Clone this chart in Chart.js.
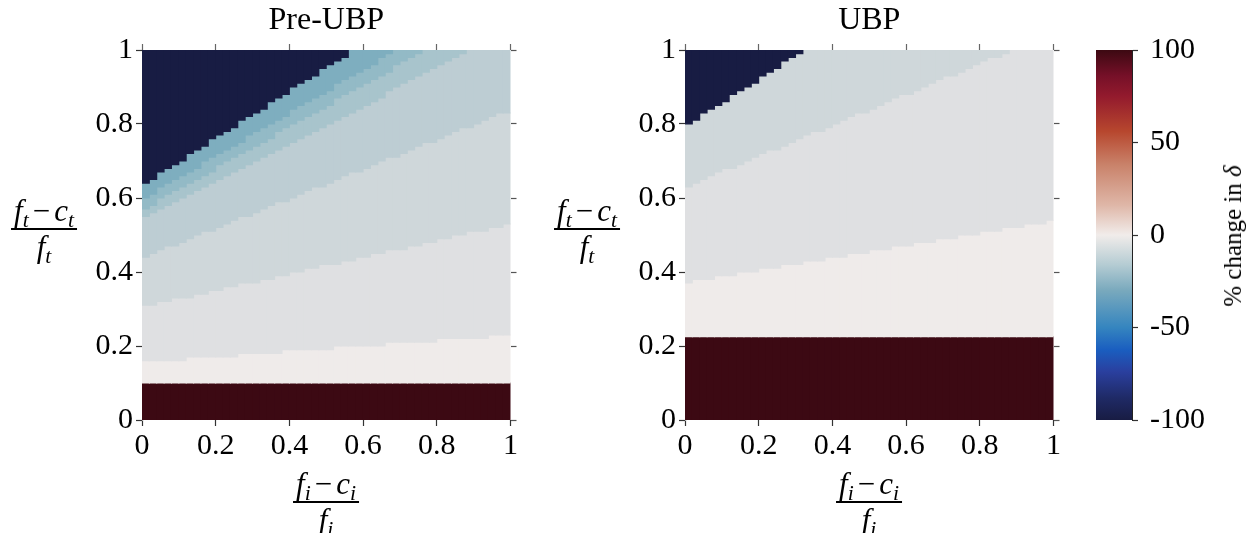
<!DOCTYPE html>
<html><head><meta charset="utf-8">
<script src="https://cdn.jsdelivr.net/npm/chart.js@4.4.1/dist/chart.umd.min.js"></script>
<style>
html,body{margin:0;padding:0;background:#fff;}
#wrap{position:relative;width:1251px;height:533px;overflow:hidden;background:#fff;}
canvas{position:absolute;top:0;}
.frac{position:absolute;transform:translate(-50%,-50%);display:flex;flex-direction:column;align-items:center;font-family:'Liberation Serif',serif;font-size:31px;line-height:28px;color:#000;}
.frac .num{border-bottom:2.5px solid #000;padding:0 3px 3px 3px;white-space:nowrap;}
.frac .den{padding-top:3px;white-space:nowrap;}
.frac i{font-style:italic;}
.frac sub{font-size:0.7em;vertical-align:baseline;position:relative;top:0.28em;line-height:0;font-style:italic;}
.frac .minus{margin:0 4px;}
.cbl{position:absolute;font-family:'Liberation Serif',serif;font-size:25px;color:#000;white-space:nowrap;transform:translate(-50%,-50%) rotate(-90deg);}
</style></head>
<body>
<div id="wrap">
  <canvas id="c1" width="520" height="470" style="left:0px;width:520px;height:470px"></canvas>
  <canvas id="c2" width="520" height="470" style="left:543px;width:520px;height:470px"></canvas>
  <canvas id="c3" width="161" height="470" style="left:1090px;width:161px;height:470px"></canvas>
  <div class="frac" style="left:44px;top:229px"><div class="num"><i>f</i><sub>t</sub><span class="minus">−</span><i>c</i><sub>t</sub></div><div class="den"><i>f</i><sub>t</sub></div></div>
  <div class="frac" style="left:587px;top:229px"><div class="num"><i>f</i><sub>t</sub><span class="minus">−</span><i>c</i><sub>t</sub></div><div class="den"><i>f</i><sub>t</sub></div></div>
  <div class="frac" style="left:326px;top:502px"><div class="num"><i>f</i><sub>i</sub><span class="minus">−</span><i>c</i><sub>i</sub></div><div class="den"><i>f</i><sub>i</sub></div></div>
  <div class="frac" style="left:869px;top:502px"><div class="num"><i>f</i><sub>i</sub><span class="minus">−</span><i>c</i><sub>i</sub></div><div class="den"><i>f</i><sub>i</sub></div></div>
  <div class="cbl" style="left:1233px;top:236px">% change in <i>δ</i></div>
</div>
<script>
// ---- categories (column centres on the x axis) ----
const xCols = [0.01,0.03,0.05,0.07,0.09,0.11,0.13,0.15,0.17,0.19,
0.21,0.23,0.25,0.27,0.29,0.31,0.33,0.35,0.37,0.39,
0.41,0.43,0.45,0.47,0.49,0.51,0.53,0.55,0.57,0.59,
0.61,0.63,0.65,0.67,0.69,0.71,0.73,0.75,0.77,0.79,
0.81,0.83,0.85,0.87,0.89,0.91,0.93,0.95,0.97,0.99];

// ---- tick labels ----
const xTicks = [0,0.2,0.4,0.6,0.8,1];
const xTickLabels = ['0','0.2','0.4','0.6','0.8','1'];
const yTicks = [0,0.2,0.4,0.6,0.8,1];
const yTickLabels = ['0','0.2','0.4','0.6','0.8','1'];
const cbarTicks = [-100,-50,0,50,100];
const cbarTickLabels = ['-100','-50','0','50','100'];

// ---- band levels (% change in delta) ----
const preLevels = [-100,-32,-26,-20,-14,-8,-3,2,100];
const ubpLevels = [-100,-8,-3,2,100];

// ---- Pre-UBP band boundaries (y value of each band's lower edge per column) ----
const preB1 = [0.64,0.65,0.67,0.68,0.69,0.70,0.72,0.73,0.74,0.76,
0.77,0.78,0.79,0.81,0.82,0.83,0.84,0.86,0.87,0.88,
0.90,0.91,0.92,0.93,0.95,0.96,0.97,0.98,1,1,
1,1,1,1,1,1,1,1,1,1,
1,1,1,1,1,1,1,1,1,1];
const preB2 = [0.60,0.61,0.63,0.64,0.65,0.66,0.67,0.68,0.70,0.71,
0.72,0.73,0.74,0.75,0.77,0.78,0.79,0.80,0.81,0.82,
0.84,0.85,0.86,0.87,0.88,0.89,0.91,0.92,0.93,0.94,
0.95,0.96,0.98,0.99,1,1,1,1,1,1,
1,1,1,1,1,1,1,1,1,1];
const preB3 = [0.57,0.58,0.60,0.61,0.62,0.63,0.64,0.65,0.66,0.67,
0.69,0.70,0.71,0.72,0.73,0.74,0.75,0.76,0.78,0.79,
0.80,0.81,0.82,0.83,0.84,0.85,0.87,0.88,0.89,0.90,
0.91,0.92,0.93,0.94,0.96,0.97,0.98,0.99,1,1,
1,1,1,1,1,1,1,1,1,1];
const preB4 = [0.55,0.56,0.57,0.58,0.59,0.60,0.61,0.62,0.63,0.64,
0.65,0.66,0.67,0.68,0.69,0.70,0.71,0.72,0.73,0.74,
0.75,0.76,0.77,0.78,0.79,0.80,0.81,0.82,0.83,0.84,
0.85,0.86,0.87,0.89,0.90,0.91,0.92,0.93,0.94,0.95,
0.96,0.97,0.98,0.99,1,1,1,1,1,1];
const preB5 = [0.44,0.45,0.46,0.47,0.47,0.48,0.49,0.50,0.51,0.51,
0.52,0.53,0.54,0.55,0.55,0.56,0.57,0.58,0.59,0.59,
0.60,0.61,0.62,0.63,0.63,0.64,0.65,0.66,0.67,0.67,
0.68,0.69,0.70,0.71,0.71,0.72,0.73,0.74,0.75,0.75,
0.76,0.77,0.78,0.79,0.79,0.80,0.81,0.82,0.83,0.83];
const preB6 = [0.31,0.31,0.32,0.32,0.33,0.33,0.33,0.34,0.34,0.35,
0.35,0.36,0.36,0.37,0.37,0.37,0.38,0.38,0.39,0.39,
0.40,0.40,0.41,0.41,0.42,0.42,0.42,0.43,0.43,0.44,
0.44,0.45,0.45,0.46,0.46,0.46,0.47,0.47,0.48,0.48,
0.49,0.49,0.50,0.50,0.51,0.51,0.51,0.52,0.52,0.53];
const preB7 = [0.16,0.16,0.16,0.16,0.16,0.16,0.17,0.17,0.17,0.17,
0.17,0.17,0.17,0.18,0.18,0.18,0.18,0.18,0.18,0.19,
0.19,0.19,0.19,0.19,0.19,0.19,0.20,0.20,0.20,0.20,
0.20,0.20,0.20,0.21,0.21,0.21,0.21,0.21,0.21,0.21,
0.22,0.22,0.22,0.22,0.22,0.22,0.22,0.23,0.23,0.23];
const preB8 = [0.10,0.10,0.10,0.10,0.10,0.10,0.10,0.10,0.10,0.10,
0.10,0.10,0.10,0.10,0.10,0.10,0.10,0.10,0.10,0.10,
0.10,0.10,0.10,0.10,0.10,0.10,0.10,0.10,0.10,0.10,
0.10,0.10,0.10,0.10,0.10,0.10,0.10,0.10,0.10,0.10,
0.10,0.10,0.10,0.10,0.10,0.10,0.10,0.10,0.10,0.10];

// ---- UBP band boundaries ----
const ubpU1 = [0.80,0.81,0.83,0.84,0.85,0.86,0.88,0.89,0.90,0.91,
0.93,0.94,0.95,0.97,0.98,0.99,1,1,1,1,
1,1,1,1,1,1,1,1,1,1,
1,1,1,1,1,1,1,1,1,1,
1,1,1,1,1,1,1,1,1,1];
const ubpU2 = [0.63,0.64,0.65,0.66,0.67,0.68,0.68,0.69,0.70,0.71,
0.72,0.73,0.73,0.74,0.75,0.76,0.77,0.78,0.78,0.79,
0.80,0.81,0.82,0.83,0.83,0.84,0.85,0.86,0.87,0.88,
0.88,0.89,0.90,0.91,0.92,0.93,0.93,0.94,0.95,0.96,
0.97,0.98,0.98,0.99,1,1,1,1,1,1];
const ubpU3 = [0.37,0.38,0.38,0.38,0.39,0.39,0.39,0.40,0.40,0.40,
0.41,0.41,0.41,0.42,0.42,0.42,0.43,0.43,0.43,0.44,
0.44,0.44,0.45,0.45,0.45,0.46,0.46,0.46,0.47,0.47,
0.47,0.48,0.48,0.48,0.49,0.49,0.49,0.50,0.50,0.50,
0.51,0.51,0.51,0.52,0.52,0.52,0.53,0.53,0.53,0.54];
const ubpU4 = [0.225,0.225,0.225,0.225,0.225,0.225,0.225,0.225,0.225,0.225,
0.225,0.225,0.225,0.225,0.225,0.225,0.225,0.225,0.225,0.225,
0.225,0.225,0.225,0.225,0.225,0.225,0.225,0.225,0.225,0.225,
0.225,0.225,0.225,0.225,0.225,0.225,0.225,0.225,0.225,0.225,
0.225,0.225,0.225,0.225,0.225,0.225,0.225,0.225,0.225,0.225];

// ---- colours (cmocean "balance" look) ----
const levelColor = {'-100':'#181c43','-32':'#7eaebf','-26':'#93bac6','-20':'#a8c4cc','-14':'#bdcdd3',
  '-8':'#cfd7da','-3':'#dfe0e2','2':'#efebea','100':'#3c0913'};
const cbarStops = [[0,'#181c43'],[0.06,'#1f2a66'],[0.13,'#2a3f9e'],[0.19,'#1a5ec0'],[0.25,'#3585bf'],
  [0.35,'#79a9bd'],[0.42,'#b5ccd3'],[0.5,'#f1ecea'],[0.58,'#dfb7a8'],[0.69,'#c9826a'],
  [0.78,'#b7472e'],[0.875,'#931a2d'],[0.93,'#761028'],[1,'#3c0912']];

const FONT = {family:"'Liberation Serif', serif", size:30, weight:'normal'};
const TFONT = {family:"'Liberation Serif', serif", size:32, weight:'normal'};

function bandData(lo, hi){
  return xCols.map((x,i)=>({x:x, y:[lo?lo[i]:0, hi?hi[i]:1]})).filter(d=>d.y[1]>d.y[0]);
}
function buildDatasets(bounds, levels){
  const ds=[];
  for(let k=0;k<levels.length;k++){
    const lo = k<bounds.length ? bounds[k] : null;
    const hi = k===0 ? null : bounds[k-1];
    ds.push({label:String(levels[k]), data:bandData(lo,hi), backgroundColor:levelColor[String(levels[k])]});
  }
  return ds;
}
const setTicks = list => s => { s.ticks = list.map(v=>({value:v})); };
const gridOpts = {display:true, drawOnChartArea:false, drawTicks:true, tickLength:6, tickColor:'#333', tickWidth:1.2, offset:false};

function heatmap(id, title, datasets){
  return new Chart(document.getElementById(id), {
    type:'bar',
    data:{datasets:datasets},
    options:{
      responsive:false, animation:false, devicePixelRatio:1,
      layout:{padding:0},
      datasets:{bar:{grouped:false, barPercentage:1, categoryPercentage:1, inflateAmount:0.5, borderWidth:0}},
      plugins:{legend:{display:false}, tooltip:{enabled:false},
        title:{display:true, text:title, font:TFONT, color:'#000', padding:{top:1,bottom:2.6}, fullSize:false}},
      scales:{
        x:{type:'linear', axis:'x', position:'bottom', min:0, max:1, offset:false,
          afterBuildTicks:setTicks(xTicks),
          ticks:{callback:(v,i)=>xTickLabels[i], font:FONT, color:'#000', padding:2, maxRotation:0, autoSkip:false},
          grid:gridOpts, border:{display:false}, afterFit:s=>{s.height=50;}},
        x2:{type:'linear', axis:'x', position:'top', min:0, max:1, offset:false,
          afterBuildTicks:setTicks(xTicks), ticks:{display:false},
          grid:Object.assign({},gridOpts,{tickColor:'#666'}), border:{display:false}, afterFit:s=>{s.height=8;}},
        y:{type:'linear', axis:'y', position:'left', min:0, max:1,
          afterBuildTicks:setTicks(yTicks),
          ticks:{callback:(v,i)=>yTickLabels[i], font:FONT, color:'#000', padding:3, autoSkip:false},
          grid:gridOpts, border:{display:true, color:'#b0b0b0', width:1}, afterFit:s=>{s.width=142;}},
        y2:{type:'linear', axis:'y', position:'right', min:0, max:1,
          afterBuildTicks:setTicks(yTicks), ticks:{display:false},
          grid:Object.assign({},gridOpts,{tickColor:'#555'}), border:{display:false}, afterFit:s=>{s.width=9;}}
      }
    }
  });
}

heatmap('c1','Pre-UBP', buildDatasets([preB1,preB2,preB3,preB4,preB5,preB6,preB7,preB8], preLevels));
heatmap('c2','UBP', buildDatasets([ubpU1,ubpU2,ubpU3,ubpU4], ubpLevels));

// ---- colour bar ----
new Chart(document.getElementById('c3'), {
  type:'bar',
  data:{labels:[''], datasets:[{data:[[cbarTicks[0], cbarTicks[cbarTicks.length-1]]],
    backgroundColor:(ctx)=>{
      const ch=ctx.chart; if(!ch.chartArea) return '#888';
      const ys=ch.scales.y;
      const g=ch.ctx.createLinearGradient(0, ys.getPixelForValue(-100), 0, ys.getPixelForValue(100));
      cbarStops.forEach(s=>g.addColorStop(s[0], s[1]));
      return g;
    },
    barPercentage:1, categoryPercentage:1, inflateAmount:0, borderWidth:0}]},
  options:{
    responsive:false, animation:false, devicePixelRatio:1,
    layout:{padding:{left:6, top:50, bottom:50, right:0}},
    plugins:{legend:{display:false}, tooltip:{enabled:false}},
    scales:{
      x:{type:'category', display:false},
      y:{type:'linear', position:'right', min:-100, max:100,
        afterBuildTicks:setTicks(cbarTicks),
        ticks:{callback:(v,i)=>cbarTickLabels[i], font:FONT, color:'#000', padding:12, autoSkip:false},
        grid:gridOpts, border:{display:true, color:'#222', width:1}, afterFit:s=>{s.width=119;}}
    }
  }
});
</script>
</body></html>
